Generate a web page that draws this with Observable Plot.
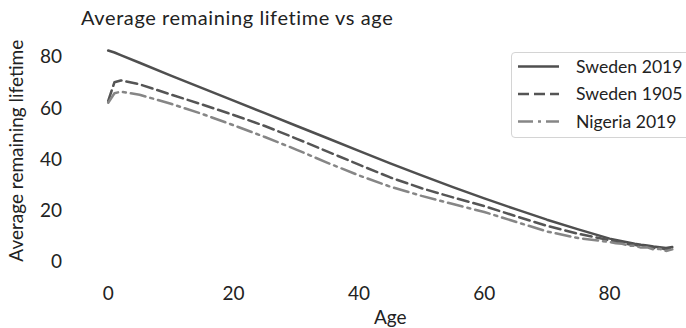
<!DOCTYPE html>
<html><head><meta charset="utf-8">
<script src="https://cdn.jsdelivr.net/npm/d3@7"></script>
<script src="https://cdn.jsdelivr.net/npm/@observablehq/plot@0.6"></script>
<style>
body{margin:0;overflow:hidden;background:#fff;font-family:Lato,sans-serif;}
#wrap{position:relative;width:686px;height:328px;overflow:hidden;}
#chart{position:absolute;left:0;top:0;}
#title{position:absolute;left:81px;top:5px;font-size:20px;letter-spacing:0.6px;color:#222;white-space:nowrap;}
#legend{position:absolute;left:511px;top:52px;width:200px;height:84px;border:1px solid #d4d4d4;border-radius:4px;background:rgba(255,255,255,0.8);}
</style></head><body>
<div id="wrap"><div id="chart"></div><div id="title">Average remaining lifetime vs age</div><div id="legend"></div></div>
<script>
const ages = [0,1,2,5,10,15,20,25,30,35,40,45,50,55,60,65,70,75,80,81,82,83,84,85,86,87,88,89,90];
const sweden2019 = [82.7,81.9,80.9,77.9,72.9,68.0,63.1,58.2,53.3,48.4,43.5,38.6,33.9,29.3,24.9,20.7,16.6,12.8,9.2,8.7,8.2,7.7,7.2,6.8,6.5,6.1,5.8,5.5,5.9];
const sweden1905 = [63.0,70.3,71.0,69.5,65.5,61.6,57.5,53.2,48.3,43.2,38.1,33.1,28.9,25.3,21.9,18.0,14.2,11.1,8.6,8.1,7.7,7.0,6.8,6.2,6.1,5.5,5.6,4.9,5.4];
const nigeria2019 = [62.3,66.0,66.6,65.4,61.9,57.9,53.5,48.9,44.0,38.8,33.9,29.5,25.9,22.7,19.6,15.8,12.0,9.4,7.9,7.4,7.2,6.5,6.4,5.7,5.8,5.0,5.2,4.4,5.0];
const seriesNames = ["Sweden 2019","Sweden 1905","Nigeria 2019"];
const seriesValues = [sweden2019, sweden1905, nigeria2019];
const seriesColors = ["#4f4f4f","#555555","#868686"];
const seriesDash = ["none","11,5","15,5,3,5"];
const xTicks = [0,20,40,60,80];
const yTicks = [0,20,40,60,80];

const lineMarks = seriesValues.map((vals, k) => {
  const rows = ages.map((a, i) => ({age: a, value: vals[i]}));
  return Plot.line(rows, {x: "age", y: "value", stroke: seriesColors[k], strokeWidth: 2.5,
    strokeDasharray: seriesDash[k], strokeLinejoin: "round"});
});

const chart = Plot.plot({
  width: 710, height: 328,
  marginTop: 40, marginBottom: 67.6, marginLeft: 79.5, marginRight: 10,
  style: {fontFamily: "Lato, sans-serif", fontSize: "19px", color: "#222", maxWidth: "none", background: "transparent"},
  x: {domain: [-4.5, 94.5]},
  y: {domain: [0.5, 86.6]},
  marks: [
    Plot.axisX({ticks: xTicks, tickSize: 0, tickPadding: 26, label: "Age", labelAnchor: "center", labelArrow: "none", labelOffset: 63}),
    Plot.axisY({ticks: yTicks, tickSize: 0, tickPadding: 18, label: "Average remaining lifetime", labelAnchor: "center", labelArrow: "none", labelOffset: 71}),
    ...lineMarks
  ]
});
document.getElementById("chart").appendChild(chart);

// legend
const ns = "http://www.w3.org/2000/svg";
const lsvg = document.createElementNS(ns, "svg");
lsvg.setAttribute("width", 200); lsvg.setAttribute("height", 84);
lsvg.style.fontFamily = "Lato, sans-serif"; lsvg.style.fontSize = "17.6px";
seriesNames.forEach((name, k) => {
  const cy = 13.5 + k * 27.5;
  const ln = document.createElementNS(ns, "line");
  ln.setAttribute("x1", 6); ln.setAttribute("x2", 47);
  ln.setAttribute("y1", cy); ln.setAttribute("y2", cy);
  ln.setAttribute("stroke", seriesColors[k]); ln.setAttribute("stroke-width", 2.5);
  if (seriesDash[k] !== "none") ln.setAttribute("stroke-dasharray", seriesDash[k]);
  lsvg.appendChild(ln);
  const t = document.createElementNS(ns, "text");
  t.setAttribute("x", 64); t.setAttribute("y", cy); t.setAttribute("dy", "0.35em");
  t.setAttribute("fill", "#222");
  t.textContent = name;
  lsvg.appendChild(t);
});
document.getElementById("legend").appendChild(lsvg);
</script>
</body></html>
